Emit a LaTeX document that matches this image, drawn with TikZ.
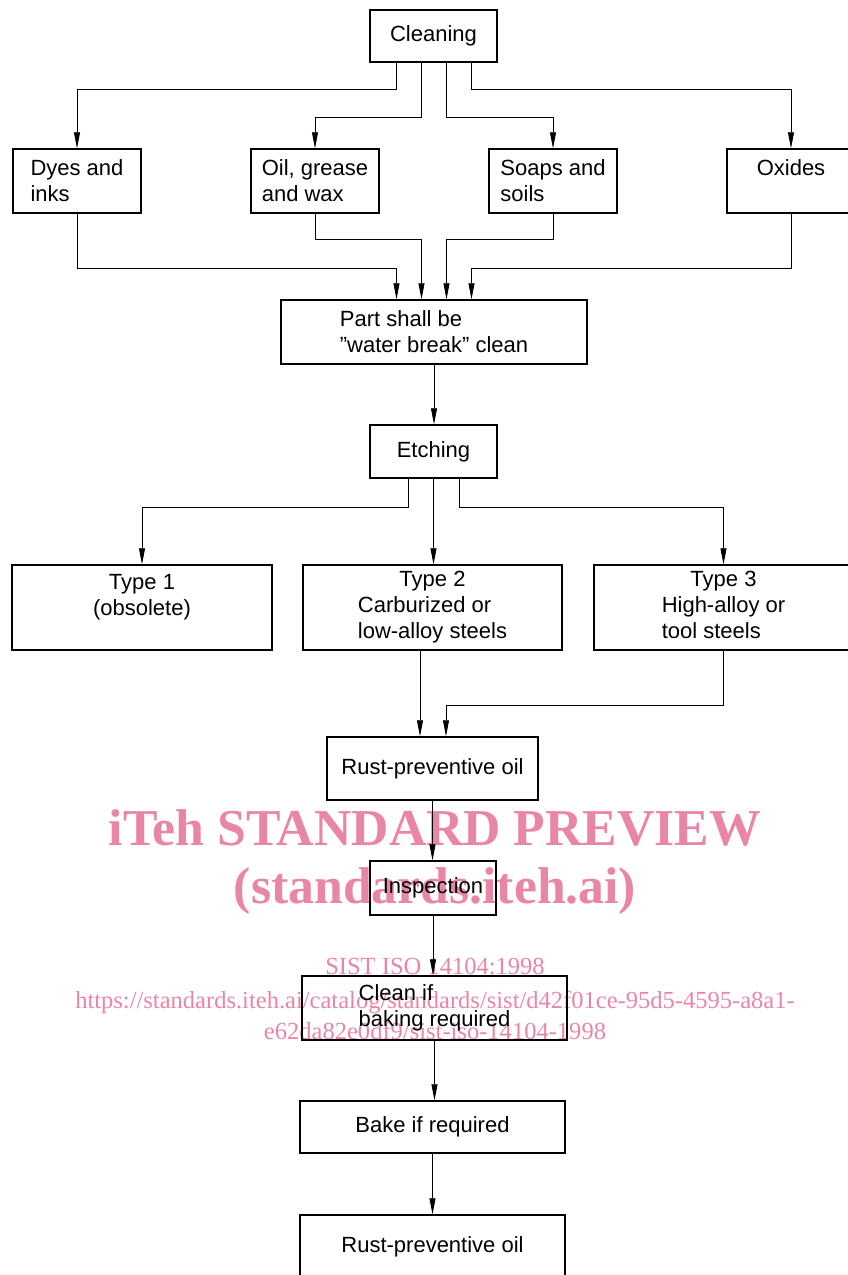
\documentclass[tikz,border=0pt]{standalone}
\usepackage{fontspec}
\setmainfont{Liberation Sans}
\newfontfamily\wmfont{Liberation Serif}
\usetikzlibrary{arrows.meta}
\definecolor{wmpink}{RGB}{234,134,165}
\begin{document}
\begin{tikzpicture}[x=0.75pt, y=-0.75pt,
  box/.style={draw, line width=1.1pt, inner sep=0pt, font=\fontsize{16.5}{19.5}\selectfont},
  conn/.style={line width=0.6pt, -{Triangle[length=12pt,width=4.5pt]}},
  wmbig/.style={anchor=base, text=wmpink, font=\wmfont\bfseries\fontsize{38.8}{40}\selectfont, inner sep=0pt},
  wmsmall/.style={anchor=base, text=wmpink, font=\wmfont\fontsize{18.4}{21}\selectfont, inner sep=0pt}]
\useasboundingbox (0,0) rectangle (848,1275);
\clip (0,0) rectangle (848,1275);

% watermark (behind)
\node[wmbig] (wm1) at (435,845) {iTeh STANDARD PREVIEW};
\node[wmbig] (wm2) at (435,903) {(standards.iteh.ai)};
\node[wmsmall] (wm3) at (435,974) {\underline{SIST ISO 14104:1998}};
\node[wmsmall] (wm4) at (435,1008) {https://standards.iteh.ai/catalog/standards/sist/d42f01ce-95d5-4595-a8a1-};
\node[wmsmall] (wm5) at (435,1039) {e62da82e0df9/sist-iso-14104-1998};

% boxes
\node[box, minimum width=95.25pt, minimum height=39pt] (clean) at (433.5,36) {Cleaning};
\node[box, minimum width=96pt, minimum height=48pt, align=left] (dyes) at (77,181) {Dyes and\\inks};
\node[box, minimum width=96pt, minimum height=48pt, align=left] (oil) at (315,181) {Oil, grease\\and wax};
\node[box, minimum width=96pt, minimum height=48pt, align=left] (soap) at (553,181) {Soaps and\\soils};
\node[box, minimum width=96pt, minimum height=48pt, align=center] (oxi) at (791,181) {Oxides\\~};
\node[box, minimum width=229.5pt, minimum height=48pt, align=left] (part) at (434,332) {Part shall be\\”water break” clean};
\node[box, minimum width=95.25pt, minimum height=39.75pt] (etch) at (433.5,451.5) {Etching};
\node[box, minimum width=195pt, minimum height=63.75pt, align=center] (t1) at (142,607.5) {Type 1\\(obsolete)\\~};
\node[box, minimum width=194.25pt, minimum height=63.75pt] (t2) at (432.5,607.5)
  {\begin{tabular}{@{}l@{}}\multicolumn{1}{@{}c@{}}{Type 2}\\Carburized or\\low-alloy steels\end{tabular}};
\node[box, minimum width=194.25pt, minimum height=63.75pt] (t3) at (723.5,607.5)
  {\begin{tabular}{@{}l@{}}\multicolumn{1}{@{}c@{}}{Type 3}\\High-alloy or\\tool steels\end{tabular}};
\node[box, minimum width=158.25pt, minimum height=47.25pt] (rust) at (432.5,768.5) {Rust-preventive oil};
\node[box, minimum width=94.5pt, minimum height=40.5pt] (insp) at (433,888) {Inspection};
\node[box, minimum width=198.75pt, minimum height=48pt, align=left] (cif) at (434.5,1008) {Clean if\\baking required};
\node[box, minimum width=198.75pt, minimum height=39pt] (bake) at (432.5,1127) {Bake if required};
\node[box, minimum width=198.75pt, minimum height=48pt] (rust2) at (432.5,1247) {Rust-preventive oil};

% bus levels
\coordinate (b1) at (0,268);
\coordinate (b2) at (0,239);

% Cleaning -> contaminants
\draw[conn] ([xshift=-28.125pt]clean.south) -- ++(0,27) -| (dyes.north);
\draw[conn] ([xshift=-9.375pt]clean.south) -- ++(0,55) -| (oil.north);
\draw[conn] ([xshift=9.375pt]clean.south) -- ++(0,55) -| (soap.north);
\draw[conn] ([xshift=28.125pt]clean.south) -- ++(0,27) -| (oxi.north);

% contaminants -> part
\draw[conn] (dyes.south) -- (dyes.south |- b1) -| ([xshift=-28.125pt]part.north);
\draw[conn] (oil.south) -- (oil.south |- b2) -| ([xshift=-9.375pt]part.north);
\draw[conn] (soap.south) -- (soap.south |- b2) -| ([xshift=9.375pt]part.north);
\draw[conn] (oxi.south) -- (oxi.south |- b1) -| ([xshift=28.125pt]part.north);

% part -> etching
\draw[conn] (part.south) -- (part.south |- etch.north);

% etching -> types
\draw[conn] ([xshift=-19.125pt]etch.south) -- ++(0,29) -| (t1.north);
\draw[conn] (etch.south) -- (etch.south |- t2.north);
\draw[conn] ([xshift=19.125pt]etch.south) -- ++(0,29) -| (t3.north);

% types -> rust
\draw[conn] ([xshift=-9.375pt]t2.south) -- ([xshift=-9.375pt]t2.south |- rust.north);
\draw[conn] (t3.south) -- ++(0,55) -| ([xshift=10.125pt]rust.north);

% chain
\draw[conn] (rust.south) -- (rust.south |- insp.north);
\draw[conn] (insp.south) -- (insp.south |- cif.north);
\draw[conn] (cif.south) -- (cif.south |- bake.north);
\draw[conn] (bake.south) -- (bake.south |- rust2.north);
\end{tikzpicture}
\end{document}
